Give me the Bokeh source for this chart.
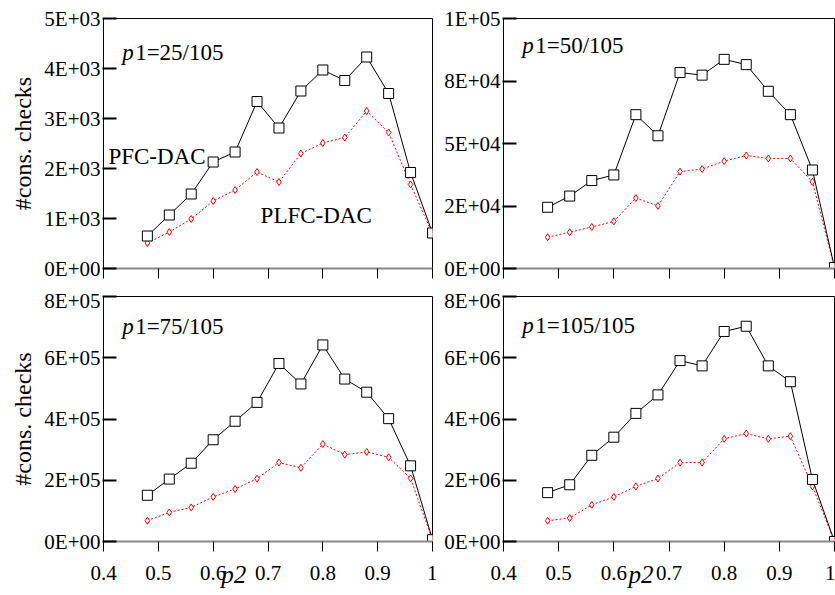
from bokeh.plotting import figure
from bokeh.layouts import column, row
from bokeh.models import Label, FixedTicker, Range1d, LinearAxis
from bokeh.embed import file_html
from bokeh.resources import INLINE

FONT = "Liberation Serif"

# ---- data ----
p2_vals = [0.48, 0.52, 0.56, 0.60, 0.64, 0.68, 0.72, 0.76, 0.80, 0.84, 0.88, 0.92, 0.96, 1.00]

pfc_25 = [650, 1070, 1490, 2130, 2330, 3340, 2810, 3550, 3970, 3760, 4230, 3500, 1920, 710]
plfc_25 = [510, 730, 990, 1350, 1570, 1930, 1730, 2300, 2510, 2620, 3150, 2720, 1680, 690]

pfc_50 = [24500, 28970, 35180, 37420, 61530, 53090, 78380, 77340, 83660, 81550, 70880, 61530, 39400, 400]
plfc_50 = [12520, 14500, 16600, 18840, 28190, 25030, 38740, 39790, 42950, 45190, 44010, 44010, 34660, 300]

pfc_75 = [151000, 203800, 255600, 332200, 392700, 454200, 581300, 514400, 641800, 530500, 487500, 401100, 247100, 6000]
plfc_75 = [67900, 95100, 111300, 145600, 171500, 205100, 257800, 240700, 318300, 283700, 292400, 275000, 206000, 5000]

pfc_105 = [1595000, 1853000, 2814000, 3406000, 4183000, 4787000, 5907000, 5735000, 6858000, 7029000, 5735000, 5218000, 2026000, 0]
plfc_105 = [679000, 765000, 1197000, 1456000, 1800000, 2058000, 2576000, 2576000, 3352000, 3527000, 3352000, 3439000, 1800000, 0]

x_ticks = [0.4, 0.5, 0.6, 0.7, 0.8, 0.9, 1.0]
x_tick_labels = ["0.4", "0.5", "0.6", "0.7", "0.8", "0.9", "1"]

y_ticks_25 = [0, 1000, 2000, 3000, 4000, 5000]
y_labels_25 = ["0E+00", "1E+03", "2E+03", "3E+03", "4E+03", "5E+03"]
y_ticks_50 = [0, 25000, 50000, 75000, 100000]
y_labels_50 = ["0E+00", "2E+04", "5E+04", "8E+04", "1E+05"]
y_ticks_75 = [0, 200000, 400000, 600000, 800000]
y_labels_75 = ["0E+00", "2E+05", "4E+05", "6E+05", "8E+05"]
y_ticks_105 = [0, 2000000, 4000000, 6000000, 8000000]
y_labels_105 = ["0E+00", "2E+06", "4E+06", "6E+06", "8E+06"]

titles = ["25/105", "50/105", "75/105", "105/105"]
y_title = "#cons. checks"
x_title = "p2"
series_names = ["PFC-DAC", "PLFC-DAC"]


def make_panel(width, height, borders, pfc, plfc, yticks, ylabels, title, title_y,
               show_ylabel, show_xlabels):
    top, right, bottom, left = borders
    p = figure(width=width, height=height, output_backend="svg", toolbar_location=None,
               x_range=Range1d(0.4, 1.0), y_range=Range1d(0, yticks[-1]),
               min_border_top=top, min_border_right=right, min_border_bottom=bottom,
               min_border_left=left)
    p.xgrid.visible = False
    p.ygrid.visible = False
    p.outline_line_color = "black"
    p.outline_line_width = 1
    p.background_fill_color = "white"
    p.border_fill_color = "white"

    xa = p.xaxis[0]
    xa.ticker = FixedTicker(ticks=x_ticks)
    xa.major_label_overrides = dict(zip(x_ticks, x_tick_labels))
    xa.major_tick_in = 0
    xa.major_tick_out = 10
    xa.minor_tick_line_color = None
    xa.axis_line_color = "#888888"
    xa.axis_line_width = 2
    xa.major_label_standoff = 14
    xa.major_label_text_font = FONT
    xa.major_label_text_color = "black"
    if show_xlabels:
        xa.major_label_text_font_size = "21px"
    else:
        xa.major_label_text_alpha = 0
        xa.major_label_text_font_size = "1px"

    ya = p.yaxis[0]
    ya.ticker = FixedTicker(ticks=yticks)
    ya.major_label_overrides = dict(zip(yticks, ylabels))
    ya.major_tick_in = 13
    ya.major_tick_out = 1
    ya.minor_tick_line_color = None
    ya.major_tick_line_width = 2
    ya.axis_line_color = "black"
    ya.major_label_standoff = 2
    ya.major_label_text_font = FONT
    ya.major_label_text_font_size = "21px"
    ya.major_label_text_color = "black"
    if show_ylabel:
        ya.axis_label = y_title
        ya.axis_label_text_font = FONT
        ya.axis_label_text_font_size = "24px"
        ya.axis_label_text_font_style = "normal"
        ya.axis_label_text_color = "black"
        ya.axis_label_standoff = 5

    p.line(p2_vals, plfc, line_color="red", line_width=1, line_dash="2 2")
    p.scatter(p2_vals, plfc, marker="diamond", size=7, fill_color="white",
              line_color="red", line_width=1)
    p.line(p2_vals, pfc, line_color="black", line_width=1)
    p.scatter(p2_vals, pfc, marker="square", size=10, fill_color="white",
              line_color="black", line_width=1)

    p.add_layout(Label(x=0.434, y=title_y, text="p", text_font=FONT,
                       text_font_style="italic", text_font_size="23px",
                       text_color="black"))
    p.add_layout(Label(x=0.434, y=title_y, x_offset=13, text="1=" + title,
                       text_font=FONT, text_font_size="23px", text_color="black"))
    return p


def add_p2_label(p, pad):
    # extra unlabelled axis carrying the "p2" title; no-break spaces shift it left
    ax = LinearAxis(ticker=FixedTicker(ticks=[]),
                    axis_label=x_title + "\u00a0" * pad, axis_label_text_font=FONT,
                    axis_label_text_font_style="italic",
                    axis_label_text_font_size="25px", axis_label_text_color="black",
                    axis_label_standoff=-22, axis_line_color=None,
                    major_tick_line_color=None, minor_tick_line_color=None,
                    major_label_text_font_size="1px", major_label_text_alpha=0)
    p.add_layout(ax, "below")


p1 = make_panel(437, 288, (15, 5, 20, 103), pfc_25, plfc_25, y_ticks_25, y_labels_25,
                titles[0], 4071, True, False)
p1.add_layout(Label(x=0.409, y=1996, text=series_names[0], text_font=FONT,
                    text_font_size="23px", text_color="black"))
p1.add_layout(Label(x=0.6865, y=810, text=series_names[1], text_font=FONT,
                    text_font_size="23px", text_color="black"))

p2 = make_panel(398, 288, (18, 1, 17, 66), pfc_50, plfc_50, y_ticks_50, y_labels_50,
                titles[1], 84190, False, False)

p3 = make_panel(437, 307, (5, 5, 54, 103), pfc_75, plfc_75, y_ticks_75, y_labels_75,
                titles[2], 660000, True, True)
add_p2_label(p3, 11)

p4 = make_panel(398, 307, (8, 1, 52, 66), pfc_105, plfc_105, y_ticks_105, y_labels_105,
                titles[3], 6641000, False, True)
add_p2_label(p4, 9)

layout = column(row(p1, p2), row(p3, p4))

open("out.html", "w").write(file_html(layout, INLINE))
